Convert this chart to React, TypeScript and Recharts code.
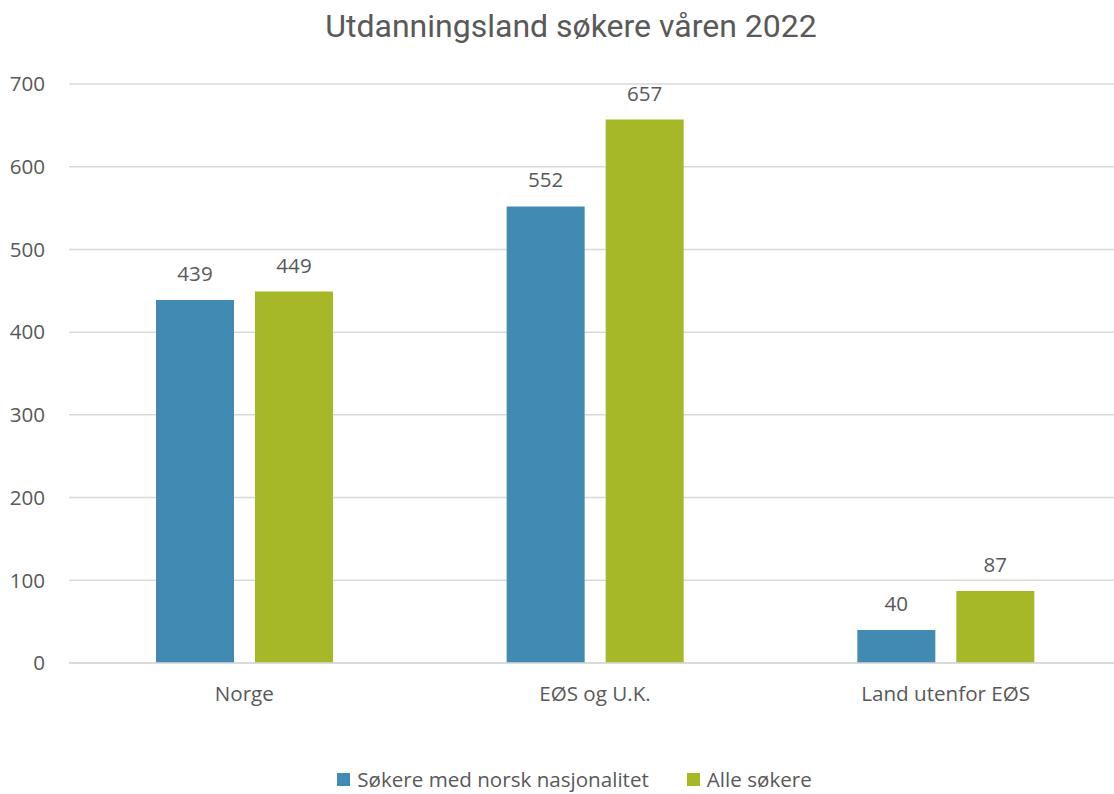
import React from "react"
import {
  BarChart,
  Bar,
  XAxis,
  YAxis,
  CartesianGrid,
  Legend,
  LabelList,
} from "recharts"

const categories = ["Norge", "EØS og U.K.", "Land utenfor EØS"]
const norskNasjonalitet = [439, 552, 40]
const alleSokere = [449, 657, 87]
const yTicks = [0, 100, 200, 300, 400, 500, 600, 700]

const seriesNames = ["Søkere med norsk nasjonalitet", "Alle søkere"]
const colors = ["#418AB3", "#A6B727"]

const data = categories.map((name, i) => ({
  name,
  norsk: norskNasjonalitet[i],
  alle: alleSokere[i],
}))

const textColor = "#595959"
const font = "'Open Sans', sans-serif"
const fs = 20.6

function LegendContent() {
  return (
    <div
      style={{
        display: "flex",
        justifyContent: "center",
        alignItems: "center",
        gap: 38,
        paddingLeft: 28,
        paddingTop: 2,
        lineHeight: "27px",
        fontFamily: font,
        fontSize: fs,
        color: textColor,
      }}
    >
      {seriesNames.map((n, i) => (
        <div key={n} style={{ display: "flex", alignItems: "center" }}>
          <span
            style={{
              display: "inline-block",
              width: 13,
              height: 13,
              background: colors[i],
              marginRight: 7,
            }}
          />
          <span>{n}</span>
        </div>
      ))}
    </div>
  )
}

export default function App() {
  return (
    <div
      style={{
        position: "absolute",
        left: 0,
        top: 0,
        width: 1114,
        height: 794,
        overflow: "hidden",
        background: "#fff",
      }}
    >
      <div
        style={{
          position: "absolute",
          left: 0,
          top: 7,
          width: 1142,
          textAlign: "center",
          fontFamily: "Roboto, sans-serif",
          fontSize: 32,
          color: textColor,
        }}
      >
        Utdanningsland søkere våren 2022
      </div>
      <BarChart
        width={1125}
        height={794}
        data={data}
        margin={{ top: 84, right: 4, left: 0, bottom: 0 }}
        barGap={21}
        barSize={78}
      >
        <CartesianGrid vertical={false} stroke="#d9d9d9" strokeWidth={1.5} />
        <XAxis
          dataKey="name"
          height={101}
          tickLine={false}
          tickSize={0}
          tickMargin={23}
          axisLine={{ stroke: "#d9d9d9", strokeWidth: 1.5 }}
          tick={{ fill: textColor, fontSize: fs, fontFamily: font }}
        />
        <YAxis
          width={69}
          domain={[0, 700]}
          ticks={yTicks}
          tickLine={false}
          axisLine={false}
          tickSize={0}
          tickMargin={24}
          tick={{ fill: textColor, fontSize: fs, fontFamily: font }}
        />
        <Legend verticalAlign="bottom" height={30} content={<LegendContent />} />
        <Bar dataKey="norsk" name={seriesNames[0]} fill={colors[0]} isAnimationActive={false}>
          <LabelList
            dataKey="norsk"
            position="top"
            offset={19}
            fill={textColor}
            fontSize={fs}
            fontFamily={font}
          />
        </Bar>
        <Bar dataKey="alle" name={seriesNames[1]} fill={colors[1]} isAnimationActive={false}>
          <LabelList
            dataKey="alle"
            position="top"
            offset={19}
            fill={textColor}
            fontSize={fs}
            fontFamily={font}
          />
        </Bar>
      </BarChart>
    </div>
  )
}
